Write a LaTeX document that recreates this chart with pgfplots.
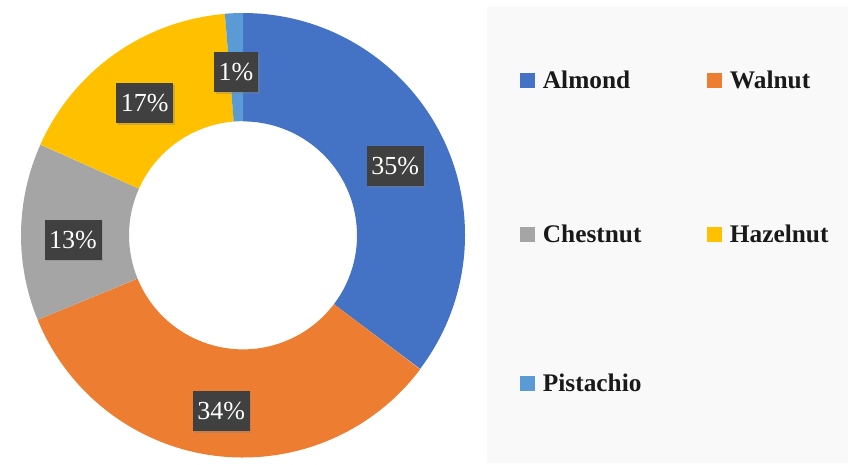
\documentclass[border=0pt]{standalone}
\usepackage{fontspec}
\setmainfont{Liberation Serif}
\usepackage{pgfplots}
\usepackage{pgfplotstable}
\pgfplotsset{compat=1.18}
\usetikzlibrary{shadows}
\definecolor{nutblue}{HTML}{4472C4}
\definecolor{nutorange}{HTML}{ED7D31}
\definecolor{nutgray}{HTML}{A5A5A5}
\definecolor{nutyellow}{HTML}{FFC000}
\definecolor{nutlight}{HTML}{5B9BD5}
\definecolor{lblbox}{HTML}{404040}
\definecolor{panel}{HTML}{F9F9F9}

\pgfplotstableread{
name value label col
Almond 35.3 35 nutblue
Walnut 33.5 34 nutorange
Chestnut 12.9 13 nutgray
Hazelnut 17.0 17 nutyellow
Pistachio 1.3 1 nutlight
}\nuttable

\begin{document}
\begin{tikzpicture}
\begin{axis}[width=636pt,height=348pt,scale only axis,
  xmin=0,xmax=848,ymin=0,ymax=464,hide axis,clip=false]
\coordinate (bbA) at (axis cs:0,0);
\coordinate (bbB) at (axis cs:848,464);
\fill[panel] (axis cs:487,2) rectangle (axis cs:848,457);
\def\cx{243}\def\cy{229}\def\Ro{222}\def\Ri{114}\def\Rl{170}
\pgfplotstablegetrowsof{\nuttable}
\pgfmathtruncatemacro{\nrows}{\pgfplotsretval-1}
\def\cumul{0}
\pgfplotsforeachungrouped \i in {0,...,\nrows}{%
  \pgfplotstablegetelem{\i}{value}\of\nuttable \let\val\pgfplotsretval
  \pgfplotstablegetelem{\i}{col}\of\nuttable \let\colr\pgfplotsretval
  \pgfmathsetmacro{\aone}{90-3.6*\cumul}%
  \pgfmathsetmacro{\atwo}{90-3.6*(\cumul+\val)}%
  \pgfmathsetmacro{\xo}{\cx+\Ro*cos(\aone)}%
  \pgfmathsetmacro{\yo}{\cy+\Ro*sin(\aone)}%
  \pgfmathsetmacro{\xi}{\cx+\Ri*cos(\atwo)}%
  \pgfmathsetmacro{\yi}{\cy+\Ri*sin(\atwo)}%
  \pgfmathsetmacro{\Rpt}{0.75*\Ro}%
  \pgfmathsetmacro{\Ript}{0.75*\Ri}%
  \edef\cmd{\noexpand\fill[\colr] (axis cs:\xo,\yo) arc[start angle=\aone,end angle=\atwo,radius=\Rpt pt] -- (axis cs:\xi,\yi) arc[start angle=\atwo,end angle=\aone,radius=\Ript pt] -- cycle;}%
  \cmd
  \pgfmathsetmacro{\cumul}{\cumul+\val}%
}
\def\cumul{0}
\pgfplotsforeachungrouped \i in {0,...,\nrows}{%
  \pgfplotstablegetelem{\i}{value}\of\nuttable \let\val\pgfplotsretval
  \pgfplotstablegetelem{\i}{label}\of\nuttable \let\lab\pgfplotsretval
  \pgfmathsetmacro{\amid}{90-3.6*(\cumul+\val/2)}%
  \pgfmathsetmacro{\xl}{\cx+\Rl*cos(\amid)}%
  \pgfmathsetmacro{\yl}{\cy+\Rl*sin(\amid)-7}%
  \edef\cmd{\noexpand\node[fill=lblbox,text=white,inner xsep=3.5pt,minimum height=30pt,
    font=\noexpand\fontsize{19.5}{22}\noexpand\selectfont,
    drop shadow={opacity=0.35,shadow xshift=1.2pt,shadow yshift=-1.2pt}]
    at (axis cs:\xl,\yl) {\lab\noexpand\%};}%
  \cmd
  \pgfmathsetmacro{\cumul}{\cumul+\val}%
}
% legend
\def\lgfont{\fontsize{19}{22}\selectfont\bfseries}
\foreach \lx/\ly/\lc/\lt in {520/384/nutblue/Almond,707/384/nutorange/Walnut,
  520/230/nutgray/Chestnut,707/230/nutyellow/Hazelnut,520/81/nutlight/Pistachio}{
  \edef\cmd{\noexpand\fill[\lc] (axis cs:\lx,\ly) ++(0,-5.6pt) rectangle ++(11.2pt,11.2pt);
  \noexpand\node[anchor=west,inner sep=0pt,text=black!90,font=\noexpand\lgfont] at (axis cs:\lx,\ly) [xshift=17pt,yshift=0.5pt] {\lt};}
  \cmd
}
\end{axis}
\pgfresetboundingbox
\useasboundingbox (bbA) rectangle (bbB);
\end{tikzpicture}
\end{document}
